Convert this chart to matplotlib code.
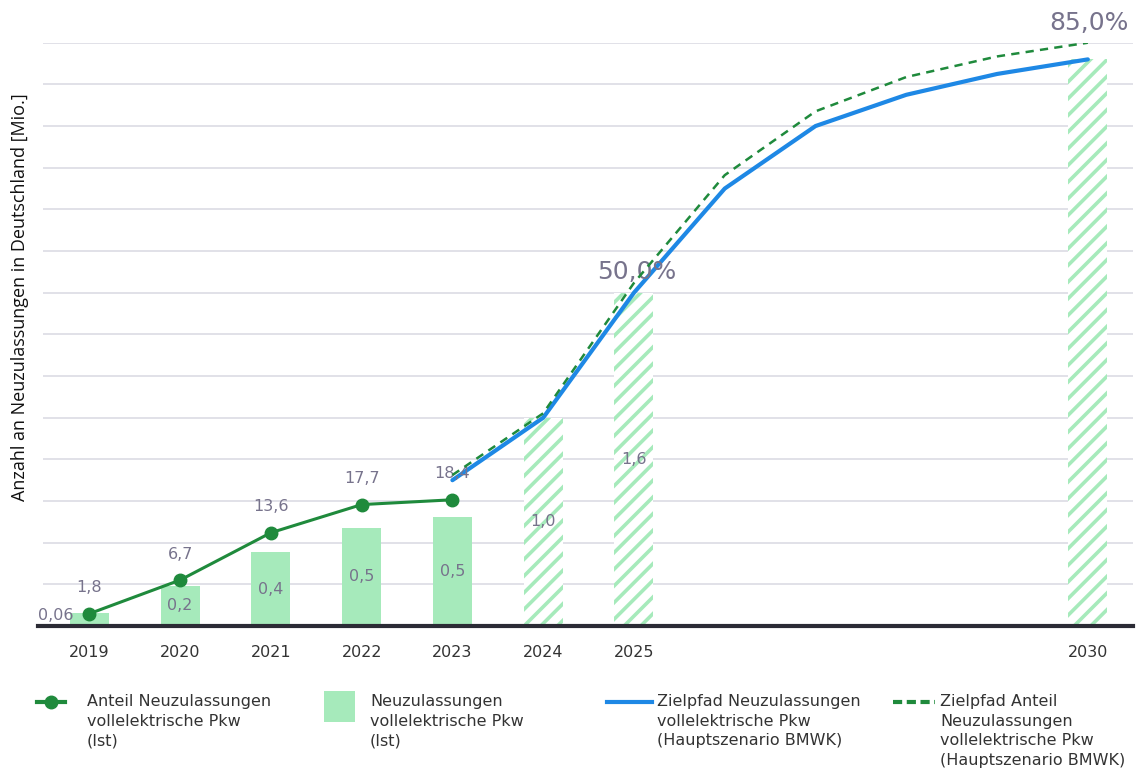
import numpy as np
import matplotlib
matplotlib.use('Agg')
import matplotlib.pyplot as plt
from matplotlib.lines import Line2D
from matplotlib.patches import Rectangle

# --- Daten ---
jahre_ist = [2019, 2020, 2021, 2022, 2023]
anteil_ist = [1.8, 6.7, 13.6, 17.7, 18.4]          # % Anteil BEV an Neuzulassungen
anteil_labels = ['1,8', '6,7', '13,6', '17,7', '18,4']
bev_ist = [0.063, 0.194, 0.355, 0.471, 0.522]       # Mio. Neuzulassungen
bev_ist_labels = ['0,06', '0,2', '0,4', '0,5', '0,5']

jahre_plan_bar = [2024, 2025, 2030]
bev_plan = [1.0, 1.6, 2.72]
bev_plan_labels = ['1,0', '1,6', '']

jahre_ziel = [2023, 2024, 2025, 2026, 2027, 2028, 2029, 2030]
ziel_bev = [0.70, 1.0, 1.6, 2.10, 2.40, 2.55, 2.65, 2.72]    # Mio.
ziel_anteil = [22, 31, 50, 65.7, 75, 80, 83, 85]              # %

x_ticks = [2019, 2020, 2021, 2022, 2023, 2024, 2025, 2030]

gruen = '#1f8a3c'
blau = '#1e88e5'
hellgruen = '#a6eabb'
label_farbe = '#77738c'
text_farbe = '#333333'

plt.rcParams['hatch.linewidth'] = 2.6

fig = plt.figure(figsize=(11.38, 7.71), dpi=100)
ax = fig.add_axes([0.0378, 0.188, 0.958, 0.7566])
ax2 = ax.twinx()

# Balken Ist
ax.bar(jahre_ist, bev_ist, width=0.43, color=hellgruen, linewidth=0, zorder=2)
# Balken Plan (schraffiert)
ax.bar(jahre_plan_bar, bev_plan, width=0.43, color='white', edgecolor=hellgruen,
       hatch='//', linewidth=0, zorder=2)

# Balkenbeschriftung
for x, h, lab in zip(jahre_ist[1:] + jahre_plan_bar, bev_ist[1:] + bev_plan,
                     bev_ist_labels[1:] + bev_plan_labels):
    ax.text(x, h / 2, lab, ha='center', va='center', fontsize=11.5, color=label_farbe, zorder=5)
ax.annotate(bev_ist_labels[0], (jahre_ist[0], bev_ist[0] / 2), xytext=(-11.5, 3),
            textcoords='offset points', ha='right', va='center', fontsize=11.5,
            color=label_farbe, zorder=5)

# Zielpfad Neuzulassungen (Mio.)
ax.plot(jahre_ziel, ziel_bev, color=blau, lw=3, zorder=4, solid_capstyle='round')

# Anteil Ist + Ziel (%)
ax2.plot(jahre_ziel, ziel_anteil, color=gruen, lw=1.8, ls=(0, (3.3, 2.5)), zorder=4)
ax2.plot(jahre_ist, anteil_ist, color=gruen, lw=2.2, marker='o', ms=9, zorder=5)
for x, v, lab in zip(jahre_ist, anteil_ist, anteil_labels):
    ax2.annotate(lab, (x, v), xytext=(0, 18.7), textcoords='offset points',
                 ha='center', va='center', fontsize=11.5, color=label_farbe)
ax2.annotate('50,0%', (2025, ziel_anteil[2]), xytext=(2, 7.5), textcoords='offset points',
             ha='center', va='center', fontsize=18, color=label_farbe)
ax2.annotate('85,0%', (2030, ziel_anteil[-1]), xytext=(1, 14.5), textcoords='offset points',
             ha='center', va='center', fontsize=18, color=label_farbe)

# Achsen
ax.set_xlim(2018.49, 2030.5)
ax.set_ylim(0, 2.8)
ax2.set_ylim(0, 85)
ax.set_yticks(np.arange(0.2, 2.81, 0.2))
ax.set_yticklabels([])
ax.tick_params(axis='y', length=0)
ax2.set_yticks([])
ax.grid(axis='y', color='#d9d9e1', lw=1.1, zorder=0)
ax.set_axisbelow(True)
ax.set_xticks(x_ticks)
ax.set_xticklabels([str(j) for j in x_ticks], fontsize=11.5, color=text_farbe)
ax.tick_params(axis='x', length=0, pad=14)
for a in (ax, ax2):
    for s in a.spines.values():
        s.set_visible(False)
ax.axhline(0, xmin=-0.005, xmax=1, color='#2b2b35', lw=3, zorder=6, clip_on=False)

fig.text(0.0176, 0.614, 'Anzahl an Neuzulassungen in Deutschland [Mio.]', rotation=90,
         ha='center', va='center', fontsize=13, color='#111111', family='Open Sans')

# Legende (manuell)
leg_y = 0.0895
fig.add_artist(Line2D([37 / 1138, 65 / 1138], [leg_y, leg_y], color=gruen, lw=3))
fig.add_artist(Line2D([51 / 1138], [leg_y], color=gruen, marker='o', ms=9, lw=0))
fig.add_artist(Rectangle((324 / 1138, (771 - 722) / 771), 31 / 1138, 31 / 771,
                         color=hellgruen, lw=0))
fig.add_artist(Line2D([607 / 1138, 652 / 1138], [leg_y, leg_y], color=blau, lw=3))
fig.add_artist(Line2D([893 / 1138, 935 / 1138], [leg_y, leg_y], color=gruen, lw=3,
                      ls=(0, (2.2, 1.1))))
leg_texte = ['Anteil Neuzulassungen\nvollelektrische Pkw\n(Ist)',
             'Neuzulassungen\nvollelektrische Pkw\n(Ist)',
             'Zielpfad Neuzulassungen\nvollelektrische Pkw\n(Hauptszenario BMWK)',
             'Zielpfad Anteil\nNeuzulassungen\nvollelektrische Pkw\n(Hauptszenario BMWK)']
for xp, t in zip([87, 370, 657, 940], leg_texte):
    fig.text(xp / 1138, (771 - 694) / 771, t, ha='left', va='top', fontsize=11.5,
             color=text_farbe, linespacing=1.38)

fig.savefig('out.png', dpi=100)
